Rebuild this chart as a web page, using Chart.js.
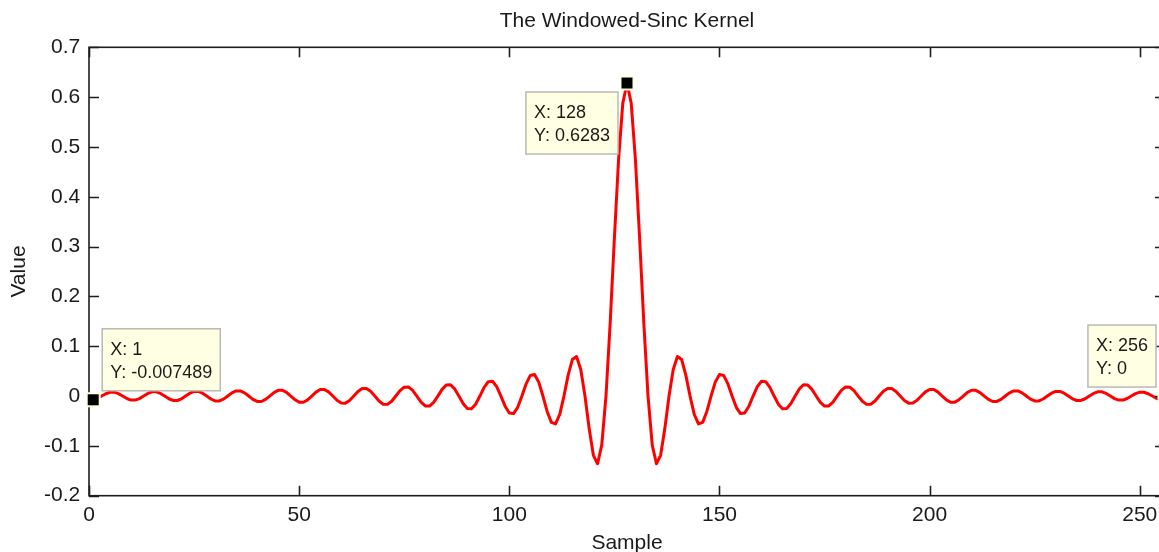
<!DOCTYPE html>
<html>
<head>
<meta charset="utf-8">
<script src="https://cdn.jsdelivr.net/npm/chart.js@4/dist/chart.umd.min.js"></script>
<style>
  html, body { margin: 0; padding: 0; background: #ffffff; overflow: hidden; width: 1159px; height: 552px; }
  #c { position: absolute; left: 0; top: 0; }
</style>
</head>
<body>
<canvas id="c" width="1200" height="552"></canvas>
<script>
// ---- data ----
const samples = [
  1,2,3,4,5,6,7,8,9,10,11,12,13,14,15,16,17,18,19,20,21,22,23,24,25,26,27,28,29,30,
  31,32,33,34,35,36,37,38,39,40,41,42,43,44,45,46,47,48,49,50,51,52,53,54,55,56,57,58,59,60,
  61,62,63,64,65,66,67,68,69,70,71,72,73,74,75,76,77,78,79,80,81,82,83,84,85,86,87,88,89,90,
  91,92,93,94,95,96,97,98,99,100,101,102,103,104,105,106,107,108,109,110,111,112,113,114,115,116,117,118,119,120,
  121,122,123,124,125,126,127,128,129,130,131,132,133,134,135,136,137,138,139,140,141,142,143,144,145,146,147,148,149,150,
  151,152,153,154,155,156,157,158,159,160,161,162,163,164,165,166,167,168,169,170,171,172,173,174,175,176,177,178,179,180,
  181,182,183,184,185,186,187,188,189,190,191,192,193,194,195,196,197,198,199,200,201,202,203,204,205,206,207,208,209,210,
  211,212,213,214,215,216,217,218,219,220,221,222,223,224,225,226,227,228,229,230,231,232,233,234,235,236,237,238,239,240,
  241,242,243,244,245,246,247,248,249,250,251,252,253,254,255,256
];

const kernel = [
  -0.007489, -0.0047, 0, 0.0047, 0.0077, 0.0078, 0.0049, 0, -0.0049, -0.0081,
  -0.0081, -0.0051, 0, 0.0052, 0.0084, 0.0085, 0.0053, 0, -0.0054, -0.0088,
  -0.0089, -0.0055, 0, 0.0057, 0.0092, 0.0093, 0.0058, 0, -0.0059, -0.0097,
  -0.0098, -0.0061, 0, 0.0063, 0.0102, 0.0103, 0.0065, 0, -0.0066, -0.0108,
  -0.0109, -0.0068, 0, 0.0070, 0.0115, 0.0116, 0.0073, 0, -0.0074, -0.0122,
  -0.0124, -0.0077, 0, 0.0079, 0.0130, 0.0132, 0.0083, 0, -0.0085, -0.0140,
  -0.0142, -0.0089, 0, 0.0092, 0.0151, 0.0153, 0.0096, 0, -0.0100, -0.0164,
  -0.0167, -0.0105, 0, 0.0109, 0.0179, 0.0183, 0.0115, 0, -0.0120, -0.0198,
  -0.0202, -0.0128, 0, 0.0134, 0.0221, 0.0226, 0.0143, 0, -0.0151, -0.0250,
  -0.0257, -0.0163, 0, 0.0173, 0.0288, 0.0297, 0.0190, 0, -0.0203, -0.0340,
  -0.0352, -0.0226, 0, 0.0245, 0.0414, 0.0432, 0.0280, 0, -0.0309, -0.0528,
  -0.0559, -0.0367, 0, 0.0420, 0.0732, 0.0793, 0.0534, 0, -0.0653, -0.1189,
  -0.1359, -0.0980, 0, 0.1469, 0.3170, 0.4755, 0.5878,
  0.6283,
  0.5878, 0.4755, 0.3170, 0.1469, 0, -0.0980, -0.1359,
  -0.1189, -0.0653, 0, 0.0534, 0.0793, 0.0732, 0.0420, 0, -0.0367, -0.0559,
  -0.0528, -0.0309, 0, 0.0280, 0.0432, 0.0414, 0.0245, 0, -0.0226, -0.0352,
  -0.0340, -0.0203, 0, 0.0190, 0.0297, 0.0288, 0.0173, 0, -0.0163, -0.0257,
  -0.0250, -0.0151, 0, 0.0143, 0.0226, 0.0221, 0.0134, 0, -0.0128, -0.0202,
  -0.0198, -0.0120, 0, 0.0115, 0.0183, 0.0179, 0.0109, 0, -0.0105, -0.0167,
  -0.0164, -0.0100, 0, 0.0096, 0.0153, 0.0151, 0.0092, 0, -0.0089, -0.0142,
  -0.0140, -0.0085, 0, 0.0083, 0.0132, 0.0130, 0.0079, 0, -0.0077, -0.0124,
  -0.0122, -0.0074, 0, 0.0073, 0.0116, 0.0115, 0.0070, 0, -0.0068, -0.0109,
  -0.0108, -0.0066, 0, 0.0065, 0.0103, 0.0102, 0.0063, 0, -0.0061, -0.0098,
  -0.0097, -0.0059, 0, 0.0058, 0.0093, 0.0092, 0.0057, 0, -0.0055, -0.0089,
  -0.0088, -0.0054, 0, 0.0053, 0.0085, 0.0084, 0.0052, 0, -0.0051, -0.0081,
  -0.0081, -0.0049, 0, 0.0049, 0.0078, 0.0077, 0.0047, 0, -0.0047, -0.0075,
  0
];

const xTickValues = [0, 50, 100, 150, 200, 250];
const yTickValues = [-0.2, -0.1, 0, 0.1, 0.2, 0.3, 0.4, 0.5, 0.6, 0.7];
const tipSamples = [1, 128, 256];

const chartTitle = 'The Windowed-Sinc Kernel';
const xTitle = 'Sample';
const yTitle = 'Value';

// ---- styling ----
const FAMILY = '"Liberation Sans", Arial, Helvetica, sans-serif';
const TEXT = '#1a1a1a';
const AXIS = '#1e1e1e';

// placement of each data tip box relative to its marker: [horizontal, vertical]
const tipPlacement = { 1: [1, -1], 128: [-1, 1], 256: [-1, -1] };

const axisBox = {
  id: 'axisBox',
  afterDatasetsDraw(chart) {
    const { ctx, chartArea: a, scales: { x, y } } = chart;
    ctx.save();
    ctx.strokeStyle = AXIS;
    ctx.lineWidth = 1.6;
    ctx.strokeRect(a.left, a.top, a.right - a.left, a.bottom - a.top);
    const L = 10;
    ctx.beginPath();
    x.ticks.forEach(t => {
      const px = Math.round(x.getPixelForValue(t.value)) + 0.5;
      ctx.moveTo(px, a.bottom); ctx.lineTo(px, a.bottom - L);
      ctx.moveTo(px, a.top); ctx.lineTo(px, a.top + L);
    });
    y.ticks.forEach(t => {
      const py = Math.round(y.getPixelForValue(t.value)) + 0.5;
      ctx.moveTo(a.left, py); ctx.lineTo(a.left + L, py);
      ctx.moveTo(a.right, py); ctx.lineTo(a.right - L, py);
    });
    ctx.stroke();
    ctx.restore();
  }
};

const dataTips = {
  id: 'dataTips',
  afterDraw(chart) {
    const { ctx, scales: { x, y } } = chart;
    ctx.save();
    ctx.font = '18px ' + FAMILY;
    tipSamples.forEach(s => {
      const i = samples.indexOf(s);
      const v = kernel[i];
      const px = x.getPixelForValue(s);
      const py = y.getPixelForValue(v);
      const lines = ['X: ' + s, 'Y: ' + v];
      const w = Math.max(...lines.map(l => ctx.measureText(l).width)) + 16;
      const h = 62;
      const [sx, sy] = tipPlacement[s];
      const bx = sx > 0 ? px + 9 : px - 9 - w;
      const by = sy > 0 ? py + 9 : py - 9 - h;
      ctx.fillStyle = '#ffffe3';
      ctx.fillRect(bx, by, w, h);
      ctx.strokeStyle = '#b9b9b4';
      ctx.lineWidth = 1.5;
      ctx.strokeRect(bx, by, w, h);
      ctx.fillStyle = TEXT;
      ctx.textBaseline = 'alphabetic';
      ctx.textAlign = 'left';
      ctx.fillText(lines[0], bx + 8, by + 26);
      ctx.fillText(lines[1], bx + 8, by + 49);
      // marker
      ctx.fillStyle = '#ffffe3';
      ctx.fillRect(px - 7.5, py - 7.5, 15, 15);
      ctx.fillStyle = '#000000';
      ctx.fillRect(px - 5.5, py - 5.5, 11, 11);
    });
    ctx.restore();
  }
};

new Chart(document.getElementById('c'), {
  type: 'line',
  data: {
    labels: samples,
    datasets: [{
      data: kernel,
      borderColor: '#ff0000',
      borderWidth: 3,
      pointRadius: 0,
      tension: 0,
      fill: false,
      borderJoinStyle: 'round',
      borderCapStyle: 'round'
    }]
  },
  options: {
    responsive: false,
    animation: false,
    layout: { padding: { left: 0, right: 35, top: 0, bottom: 0 } },
    plugins: {
      legend: { display: false },
      tooltip: { enabled: false },
      title: {
        display: true,
        fullSize: false,
        text: chartTitle,
        color: TEXT,
        font: { family: FAMILY, size: 21, weight: 'normal', lineHeight: 1.2 },
        padding: { top: 8.7, bottom: 13.4 }
      }
    },
    scales: {
      x: {
        type: 'linear',
        min: 0,
        max: 256,
        grid: { display: false, drawTicks: false },
        border: { display: false },
        afterBuildTicks: s => { s.ticks = xTickValues.map(v => ({ value: v })); },
        afterFit: s => { s.height = 56.3; },
        ticks: {
          padding: 7,
          color: TEXT,
          maxRotation: 0,
          autoSkip: false,
          font: { family: FAMILY, size: 21 },
          callback: v => String(v)
        },
        title: {
          display: true,
          text: xTitle,
          color: TEXT,
          font: { family: FAMILY, size: 21, lineHeight: 0.86 },
          padding: { top: 0, bottom: 0 }
        }
      },
      y: {
        min: -0.2,
        max: 0.7,
        grid: { display: false, drawTicks: false },
        border: { display: false },
        afterBuildTicks: s => { s.ticks = yTickValues.map(v => ({ value: v })); },
        afterFit: s => { s.width = 89; },
        ticks: {
          padding: 8.7,
          color: TEXT,
          autoSkip: false,
          font: { family: FAMILY, size: 21 },
          callback: v => String(v)
        },
        title: {
          display: true,
          text: yTitle,
          color: TEXT,
          font: { family: FAMILY, size: 21, lineHeight: 1.2 },
          padding: { top: 7.1, bottom: 0 }
        }
      }
    }
  },
  plugins: [axisBox, dataTips]
});
</script>
</body>
</html>
